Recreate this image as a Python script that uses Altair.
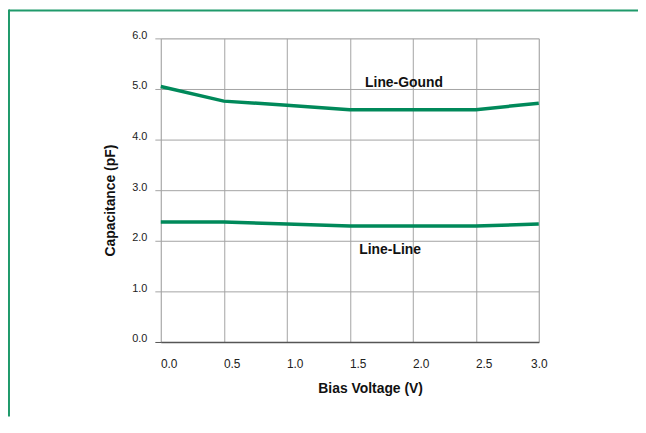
import altair as alt
import pandas as pd

# ---- data ----
voltage = [0.0, 0.5, 1.0, 1.5, 2.0, 2.5, 3.0]
line_ground = [5.05, 4.76, 4.68, 4.59, 4.59, 4.59, 4.72]
line_line = [2.37, 2.37, 2.33, 2.29, 2.29, 2.29, 2.33]
series_names = ["Line-Gound", "Line-Line"]
label_x = [1.93, 1.82]
label_y = [5.12, 1.82]
x_ticks = [0.0, 0.5, 1.0, 1.5, 2.0, 2.5, 3.0]
y_ticks = [0.0, 1.0, 2.0, 3.0, 4.0, 5.0, 6.0]

GREEN = "#00895a"
FONT = "Liberation Sans"
GRID = "#a3a3a3"

rows = []
for name, vals in zip(series_names, [line_ground, line_line]):
    for v, c in zip(voltage, vals):
        rows.append({"series": name, "voltage": v, "cap": c})
df = pd.DataFrame(rows)
labels = pd.DataFrame({"series": series_names, "x": label_x, "y": label_y})

W, H = 381, 306
PAD_R, PAD_B = 100, 75

xscale = alt.Scale(domain=[0, 3], nice=False, zero=False)
yscale = alt.Scale(domain=[0, 6], nice=False)

xaxis = alt.Axis(
    values=x_ticks, format=".1f", title="Bias Voltage (V)",
    grid=True, gridColor=GRID, gridWidth=1,
    domain=True, domainColor="#555555", domainWidth=1.5,
    ticks=False, tickSize=0,
    labelFont=FONT, labelFontSize=12, labelColor="#222222",
    labelPadding=17, labelFlush=False,
    labelOffset={"condition": {"test": "datum.value == 3", "value": 0}, "value": 8},
    titleFont=FONT, titleFontSize=14, titleFontWeight="bold", titleColor="#111111",
    titleX=211, titleY=51, titleBaseline="alphabetic", titleAlign="center",
)
yaxis = alt.Axis(
    values=y_ticks, format=".1f", title="Capacitance (pF)",
    grid=True, gridColor=GRID, gridWidth=1,
    domain=False,
    ticks=True, tickSize=6, tickWidth=1,
    tickColor={"condition": {"test": "datum.value == 0", "value": "#555555"}, "value": GRID},
    labelFont=FONT, labelFontSize=11, labelColor="#222222",
    labelPadding=8, labelBaseline="middle", labelOffset=-3, labelFlush=False,
    titleFont=FONT, titleFontSize=14, titleFontWeight="bold", titleColor="#111111",
    titleX=-47, titleY=163, titleAngle=270, titleBaseline="alphabetic", titleAlign="center",
)

lines = alt.Chart(df).mark_line(strokeWidth=3.5, color=GREEN).encode(
    x=alt.X("voltage:Q", scale=xscale, axis=xaxis),
    y=alt.Y("cap:Q", scale=yscale, axis=yaxis),
    detail="series:N",
)

texts = alt.Chart(labels).mark_text(
    font=FONT, fontSize=14, fontWeight="bold", color="#111111",
    align="center", baseline="middle",
).encode(
    x=alt.X("x:Q", scale=xscale),
    y=alt.Y("y:Q", scale=yscale),
    text="series:N",
)

frame_data = pd.DataFrame({"k": [0]})
top_border = alt.Chart(frame_data).mark_rule(color="#1f9a6b", strokeWidth=2).encode(
    x=alt.value(-153), x2=alt.value(W + PAD_R), y=alt.value(-28)
)
left_border = alt.Chart(frame_data).mark_rule(color="#1f9a6b", strokeWidth=2).encode(
    x=alt.value(-153), y=alt.value(-29), y2=alt.value(H + PAD_B)
)

chart = alt.layer(lines, texts, top_border, left_border).properties(
    width=W, height=H,
    autosize=alt.AutoSizeParams(type="none"),
    padding={"left": 154, "top": 29, "right": PAD_R, "bottom": PAD_B},
).configure_view(stroke=None).configure(background="white")

chart.save("out.html", embed_options={"renderer": "svg", "actions": False})
